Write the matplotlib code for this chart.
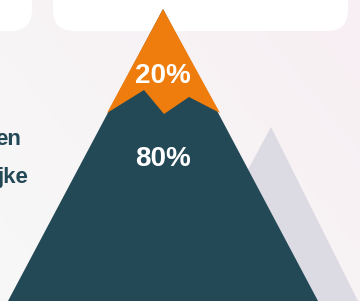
import numpy as np
import matplotlib
matplotlib.use("Agg")
import matplotlib.pyplot as plt
from matplotlib.patches import Polygon, FancyBboxPatch
from matplotlib.colors import LinearSegmentedColormap

# data
segments = ["top", "base"]
shares = [20, 80]
seg_colors = ["#ee7d0e", "#224955"]
side_words = ["en", "jke"]

# mountain outline (pixel space)
apex = (163, 9)
base_left = (8, 301)
base_right = (318, 301)
snow_line = [(107, 113), (144, 90), (164, 114), (189, 97), (220, 113)]
back_peak = [(271, 127), (177, 301), (358, 301)]

W, H = 360, 301
fig = plt.figure(figsize=(W / 100, H / 100), dpi=100)
ax = fig.add_axes([0, 0, 1, 1])
ax.set_xlim(0, W)
ax.set_ylim(H, 0)
ax.axis("off")

# soft background gradient (bottom-left white -> top-right pink)
yy, xx = np.mgrid[0:1:200j, 0:1:200j]
grad = xx * 0.6 + (1 - yy) * 0.4
cmap = LinearSegmentedColormap.from_list("bg", ["#f8f8f8", "#f7eff3"])
ax.imshow(grad, cmap=cmap, extent=[0, W, H, 0], aspect="auto",
          zorder=0, origin="upper")

# white cards at top
for x0, x1 in [(-60, 32), (53, 348)]:
    ax.add_patch(FancyBboxPatch((x0, -60), x1 - x0, 91,
                                boxstyle="round,pad=0,rounding_size=21",
                                fc="white", ec="none", zorder=1))

# background peak
ax.add_patch(Polygon(back_peak, closed=True, fc="#dcdae2", ec="none", zorder=2))

# main mountain
ax.add_patch(Polygon([apex, base_left, base_right], closed=True,
                     fc=seg_colors[1], ec="none", zorder=3))
ax.add_patch(Polygon([apex] + snow_line, closed=True,
                     fc=seg_colors[0], ec="none", zorder=4))

label_base = [83, 166]
for share, y in zip(shares, label_base):
    ax.text(apex[0], y, f"{share}%", color="white", fontsize=20,
            fontweight="bold", family="Liberation Sans",
            ha="center", va="baseline", zorder=5)

for word, x, y in zip(side_words, [21, 28], [145, 183]):
    ax.text(x, y, word, color="#224955", fontsize=16, fontweight="bold",
            family="Liberation Sans", ha="right", va="baseline", zorder=5)

fig.savefig("out.png", dpi=100)
